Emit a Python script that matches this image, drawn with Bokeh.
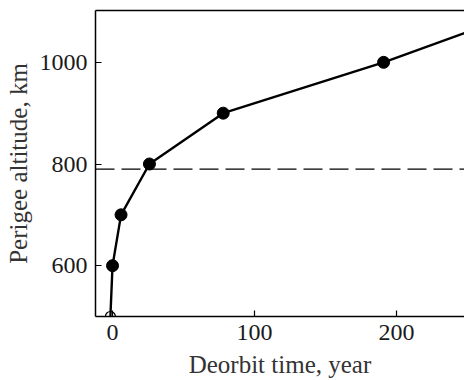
from bokeh.plotting import figure
from bokeh.models import Range1d, LinearAxis, FixedTicker, Span
from bokeh.embed import file_html
from bokeh.resources import INLINE

# data
deorbit_years = [-1.5, 0, 6, 26, 78, 191, 300]
perigee_km = [500, 600, 700, 800, 900, 1000, 1110]
filled_x = [0, 6, 26, 78, 191]
filled_y = [600, 700, 800, 900, 1000]
open_x = [-1.5]
open_y = [500]
threshold_km = 790
x_ticks = [0, 100, 200]
y_ticks = [600, 800, 1000]

FONT = "Liberation Serif"

p = figure(width=464, height=380, output_backend="svg", toolbar_location=None,
           x_range=Range1d(-12, 248), y_range=Range1d(500, 1102),
           min_border_left=95, min_border_top=10, min_border_right=0, min_border_bottom=64)
p.outline_line_color = None
p.grid.visible = False
p.background_fill_color = "white"

for ax in (p.xaxis[0], p.yaxis[0]):
    ax.axis_line_color = "black"
    ax.axis_line_width = 1.5
    ax.major_tick_in = 6
    ax.major_tick_out = 0
    ax.minor_tick_in = 0
    ax.minor_tick_out = 0
    ax.major_tick_line_width = 1.2
    ax.major_label_text_font = FONT
    ax.major_label_text_font_size = "24px"
    ax.major_label_text_color = "#1a1a1a"
    ax.axis_label_text_font = FONT
    ax.axis_label_text_font_size = "25px"
    ax.axis_label_text_font_style = "normal"
    ax.axis_label_text_color = "#333333"

p.xaxis[0].ticker = FixedTicker(ticks=x_ticks)
p.yaxis[0].ticker = FixedTicker(ticks=y_ticks)
p.xaxis[0].axis_label = "Deorbit time, year"
p.yaxis[0].axis_label = "Perigee altitude, km"
p.xaxis[0].major_label_standoff = 8
p.yaxis[0].major_label_standoff = 8
p.xaxis[0].axis_label_standoff = 8
p.yaxis[0].axis_label_standoff = 5

top = LinearAxis(ticker=FixedTicker(ticks=[]), major_label_text_font_size="0px",
                 major_tick_in=0, major_tick_out=0, minor_tick_in=0, minor_tick_out=0,
                 axis_line_width=1.5, axis_line_color="black", major_label_standoff=0)
p.add_layout(top, "above")

p.add_layout(Span(location=threshold_km, dimension="width", line_color="black",
                  line_width=1.4, line_dash="19 7"))

p.line(deorbit_years, perigee_km, line_color="black", line_width=2.4)
p.scatter(filled_x, filled_y, size=12, fill_color="black", line_color="black")
p.scatter(open_x, open_y, size=10, fill_color=None, line_color="black", line_width=1.2)

open("out.html", "w").write(file_html(p, INLINE))
